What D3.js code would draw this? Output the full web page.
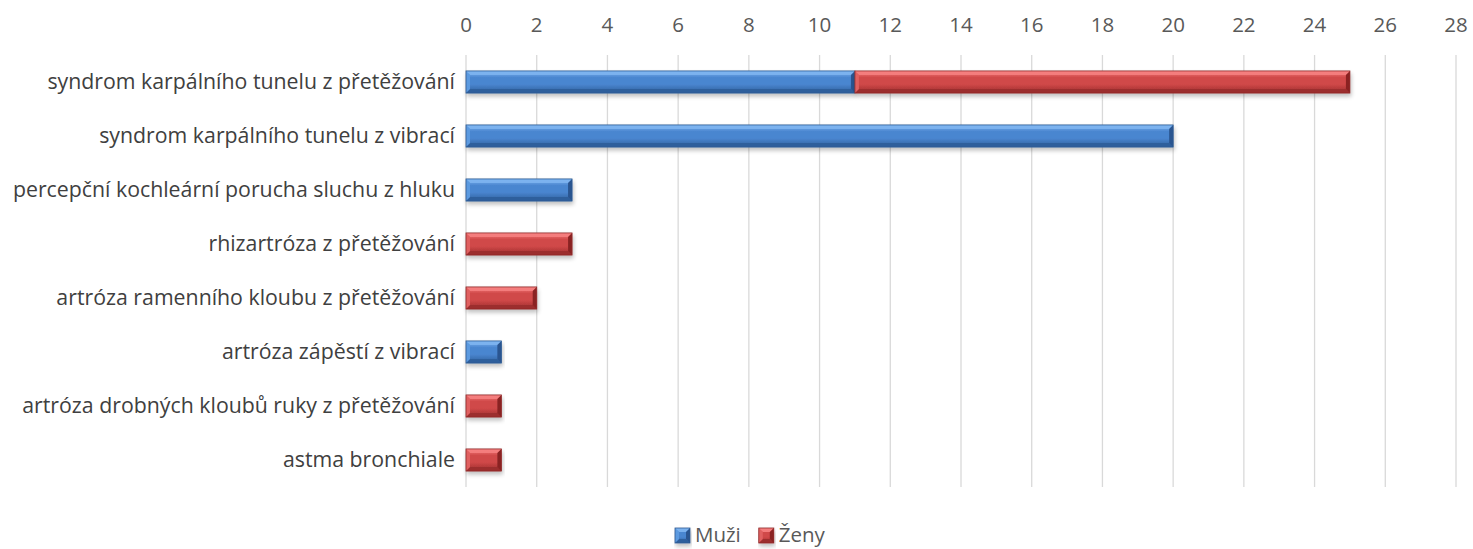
<!DOCTYPE html>
<html><head><meta charset="utf-8">
<script src="https://cdn.jsdelivr.net/npm/d3@7"></script>
<style>body{margin:0;background:#fff;} text{font-family:"Open Sans","Noto Sans",sans-serif;}</style>
</head><body>
<svg id="c" width="1473" height="549"></svg>
<script>
const categories = ["syndrom karpálního tunelu z přetěžování","syndrom karpálního tunelu z vibrací","percepční kochleární porucha sluchu z hluku","rhizartróza z přetěžování","artróza ramenního kloubu z přetěžování","artróza zápěstí z vibrací","artróza drobných kloubů ruky z přetěžování","astma bronchiale"];
const muzi = [11,20,3,0,0,1,0,0];
const zeny = [14,0,0,3,2,0,1,1];
const seriesNames = ["Muži","Ženy"];
const xTicks = d3.range(0,29,2);

const svg = d3.select("#c");
const x = d3.scaleLinear().domain([0,28]).range([466,1456]);
const y = d3.scaleBand().domain(categories).range([55,487]).paddingInner(0.59).paddingOuter(0.295);

const pal = {
  "Muži": {top:"#7db4f0", mid:"#4a86d0", bot:"#2f5f9c", edgeL:"#5c9ae0", edgeR:"#2a5590", stroke:"#2d5a92"},
  "Ženy": {top:"#f58080", mid:"#d04848", bot:"#9c2e2e", edgeL:"#e06060", edgeR:"#8a2424", stroke:"#8e2a2a"}
};
const defs = svg.append("defs");
Object.entries(pal).forEach(([k,p],i)=>{
  const g = defs.append("linearGradient").attr("id","g"+i).attr("x1",0).attr("y1",0).attr("x2",0).attr("y2",1);
  g.append("stop").attr("offset","0%").attr("stop-color",p.top);
  g.append("stop").attr("offset","30%").attr("stop-color",p.mid);
  g.append("stop").attr("offset","60%").attr("stop-color",p.mid);
  g.append("stop").attr("offset","100%").attr("stop-color",p.bot);
});
const f = defs.append("filter").attr("id","sh").attr("x","-10%").attr("y","-30%").attr("width","120%").attr("height","180%");
f.append("feGaussianBlur").attr("in","SourceAlpha").attr("stdDeviation",2);
f.append("feOffset").attr("dx",1).attr("dy",3).attr("result","b");
f.append("feComponentTransfer").append("feFuncA").attr("type","linear").attr("slope",0.25);
const fm = f.append("feMerge"); fm.append("feMergeNode"); fm.append("feMergeNode").attr("in","SourceGraphic");

// gridlines
svg.append("g").selectAll("line").data(xTicks).join("line")
  .attr("x1",d=>x(d)).attr("x2",d=>x(d)).attr("y1",55).attr("y2",487)
  .attr("stroke","#d9d9d9").attr("stroke-width",1.3);

// top axis labels
svg.append("g").selectAll("text").data(xTicks).join("text")
  .attr("x",d=>x(d)).attr("y",32).attr("text-anchor","middle")
  .attr("fill","#595959").attr("font-size",20.5).text(d=>d);

// category labels
svg.append("g").selectAll("text").data(categories).join("text")
  .attr("x",455).attr("y",d=>y(d)+y.bandwidth()/2).attr("dy","0.35em")
  .attr("text-anchor","end").attr("fill","#404040").attr("font-size",21.3).text(d=>d);

function bevelBar(g, x0, x1, yy, h, p, gi, bev){
  const b = Math.min(bev||4, (x1-x0)/2);
  const gg = g.append("g").attr("filter","url(#sh)");
  gg.append("rect").attr("x",x0).attr("y",yy).attr("width",x1-x0).attr("height",h).attr("fill",`url(#g${gi})`);
  gg.append("polygon").attr("points",[[x0,yy],[x1,yy],[x1-b,yy+b],[x0+b,yy+b]].join(" ")).attr("fill",p.top).attr("opacity",0.9);
  gg.append("polygon").attr("points",[[x0,yy+h],[x1,yy+h],[x1-b,yy+h-b],[x0+b,yy+h-b]].join(" ")).attr("fill",p.bot);
  gg.append("polygon").attr("points",[[x0,yy],[x0+b,yy+b],[x0+b,yy+h-b],[x0,yy+h]].join(" ")).attr("fill",p.edgeL);
  gg.append("polygon").attr("points",[[x1,yy],[x1-b,yy+b],[x1-b,yy+h-b],[x1,yy+h]].join(" ")).attr("fill",p.edgeR);
  gg.append("rect").attr("x",x0).attr("y",yy).attr("width",x1-x0).attr("height",h).attr("fill","none").attr("stroke",p.stroke).attr("stroke-width",0.8);
}

const bars = svg.append("g");
categories.forEach((c,i)=>{
  const vals = [muzi[i], zeny[i]];
  let acc = 0;
  vals.forEach((v,si)=>{
    if(v>0){
      bevelBar(bars, x(acc), x(acc+v), y(c), y.bandwidth(), pal[seriesNames[si]], si);
      acc += v;
    }
  });
});

// legend: measure texts, lay out left to right
const lg = svg.append("g");
let cx = 0;
const sq = 15, gapT = 5, gapI = 18;
seriesNames.forEach((n,si)=>{
  const it = lg.append("g").attr("transform",`translate(${cx},0)`);
  bevelBar(it, 0, sq, 528, sq, pal[n], si, 4);
  const t = it.append("text").attr("x",sq+gapT).attr("y",535).attr("dy","0.35em").attr("fill","#595959").attr("font-size",20.5).text(n);
  cx += sq + gapT + t.node().getComputedTextLength() + gapI;
});
lg.attr("transform",`translate(675,0)`);
</script>
</body></html>
